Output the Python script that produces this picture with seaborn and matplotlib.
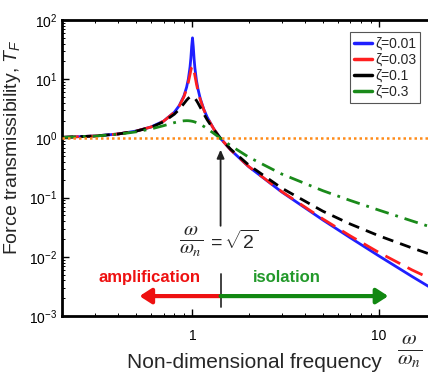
import matplotlib
matplotlib.use("Agg")
import matplotlib.pyplot as plt
from matplotlib.lines import Line2D
from matplotlib.ticker import FixedLocator, FixedFormatter, LogLocator, NullFormatter
import numpy as np
import pandas as pd
import seaborn as sns

# Frequency ratio omega/omega_n
freq = [0.2, 0.3, 0.4, 0.5, 0.6, 0.7, 0.8, 0.85, 0.9, 0.93, 0.95, 0.97, 0.98, 0.99,
        1.0, 1.01, 1.02, 1.03, 1.05, 1.07, 1.1, 1.15, 1.2, 1.3, 1.414, 1.6, 2, 3, 5,
        7, 10, 15, 20]

# Force transmissibility for each damping ratio
T_z001 = [1.042, 1.099, 1.190, 1.333, 1.562, 1.961, 2.775, 3.597, 5.241, 7.334, 10.07,
          16.08, 22.64, 35.63, 50.01, 35.10, 22.10, 15.56, 9.560, 6.829, 4.737, 3.094,
          2.270, 1.449, 1.000, 0.6412, 0.3336, 0.1252, 0.04187, 0.02104, 0.01030,
          0.004661, 0.002699]
T_z003 = [1.042, 1.099, 1.190, 1.333, 1.561, 1.956, 2.757, 3.549, 5.070, 6.852, 8.869,
          12.08, 14.13, 15.99, 16.70, 15.69, 13.66, 11.55, 8.328, 6.323, 4.553, 3.039,
          2.249, 1.445, 1.000, 0.6428, 0.3355, 0.1270, 0.04350, 0.02260, 0.01178,
          0.006006, 0.003915]
T_z01 = [1.042, 1.099, 1.189, 1.328, 1.547, 1.909, 2.571, 3.117, 3.882, 4.425, 4.766,
         5.023, 5.096, 5.123, 5.099, 5.026, 4.908, 4.753, 4.373, 3.957, 3.367, 2.590,
         2.052, 1.401, 1.000, 0.6593, 0.3559, 0.1454, 0.05887, 0.03583, 0.02258,
         0.01412, 0.01033]
T_z03 = [1.041, 1.095, 1.177, 1.293, 1.447, 1.642, 1.849, 1.933, 1.985, 1.995, 1.991,
         1.978, 1.968, 1.957, 1.944, 1.929, 1.912, 1.893, 1.852, 1.806, 1.730, 1.595,
         1.460, 1.218, 1.000, 0.7568, 0.4834, 0.2511, 0.1307, 0.08960, 0.06133,
         0.04039, 0.03017]

labels = ["ζ=0.01", "ζ=0.03", "ζ=0.1", "ζ=0.3"]
series = [T_z001, T_z003, T_z01, T_z03]
colors = ["#1f1fff", "#ff1f1f", "#000000", "#1a8a1a"]
dashes = [(None, None), (6, 3), (4, 2.6), (5, 2.5, 1, 2.5)]

y_ticks = [1e-3, 1e-2, 1e-1, 1e0, 1e1, 1e2]
y_tick_labels = [r"$10^{-3}$", r"$10^{-2}$", r"$10^{-1}$", r"$10^{0}$", r"$10^{1}$", r"$10^{2}$"]
x_ticks = [1, 10]
x_tick_labels = ["1", "10"]

sns.set_style("ticks")
plt.rcParams["font.family"] = ["Liberation Sans", "DejaVu Sans"]
plt.rcParams["mathtext.fontset"] = "custom"
plt.rcParams["mathtext.rm"] = "Liberation Sans"
plt.rcParams["mathtext.it"] = "Liberation Sans:italic"
plt.rcParams["mathtext.bf"] = "Liberation Sans:bold"

fig = plt.figure(figsize=(4.28, 3.78), dpi=100)
ax = fig.add_axes([0.145, 0.164, 0.872, 0.783])

frames = []
for lab, vals in zip(labels, series):
    frames.append(pd.DataFrame({"freq": freq, "T": vals, "zeta": lab}))
df = pd.concat(frames, ignore_index=True)

for lab, col, d in zip(labels, colors, dashes):
    sub = df[df["zeta"] == lab]
    sns.lineplot(data=sub, x="freq", y="T", ax=ax, color=col, lw=2.0,
                 estimator=None, sort=False, legend=False)
    line = ax.lines[-1]
    if d[0] is not None:
        line.set_dashes(d)

ax.axhline(1.0, color="#ff8c1a", lw=1.8, ls=(0, (1, 1.2)), zorder=5)

ax.set_xscale("log")
ax.set_yscale("log")
ax.set_xlim(0.2, 20)
ax.set_ylim(1e-3, 1e2)

ax.yaxis.set_major_locator(FixedLocator(y_ticks))
ax.yaxis.set_major_formatter(FixedFormatter(y_tick_labels))
ax.xaxis.set_major_locator(FixedLocator(x_ticks))
ax.xaxis.set_major_formatter(FixedFormatter(x_tick_labels))
ax.xaxis.set_minor_locator(LogLocator(base=10, subs=np.arange(2, 10)))
ax.yaxis.set_minor_locator(LogLocator(base=10, subs=np.arange(2, 10), numticks=20))
ax.xaxis.set_minor_formatter(NullFormatter())
ax.yaxis.set_minor_formatter(NullFormatter())

ax.tick_params(which="both", direction="in", top=True, right=True, colors="black",
               labelsize=10)
ax.tick_params(which="major", length=5, width=1.0)
ax.tick_params(which="minor", length=2.5, width=0.7)
ax.tick_params(axis="x", pad=9, labelsize=10)
for s in ax.spines.values():
    s.set_linewidth(2.0)
    s.set_color("black")

ax.set_ylabel(r"Force transmissibility, $T_F$", fontsize=14)
ax.yaxis.set_label_coords(-0.105, 0.571)
ax.set_xlabel("Non-dimensional frequency", fontsize=15)
ax.xaxis.set_label_coords(0.515, -0.125)
fig.text(0.958, 0.068, r"$\frac{\omega}{\omega_n}$", fontsize=22, ha="center",
         va="center", math_fontfamily="stix")

# Legend
handles = [Line2D([0], [0], color=c, lw=2.5) for c in colors]
leg = ax.legend(handles, labels, loc="upper left", bbox_to_anchor=(0.772, 0.958),
                borderaxespad=0, fontsize=10, handlelength=1.3, handletextpad=0.2,
                labelspacing=0.15, borderpad=0.3, fancybox=False, framealpha=1,
                edgecolor="#555555")
leg.get_frame().set_linewidth(0.8)

# Annotation at the crossover frequency
root2 = 2 ** 0.5
ax.annotate("", xy=(root2, 0.72), xytext=(root2, 0.03),
            arrowprops=dict(arrowstyle="-|>,head_length=0.5,head_width=0.22",
                            color="#222222", lw=1.3))
ax.text(0.985, 0.018, r"$\frac{\omega}{\omega_n}$", fontsize=21, ha="center",
        va="center", math_fontfamily="stix")
ax.text(1.2, 0.0185, r"$=\sqrt{2}$", fontsize=14, ha="left", va="center")

# Amplification / isolation arrows
y_arrow = 0.00217
ax.annotate("", xy=(0.52, y_arrow), xytext=(root2, y_arrow),
            arrowprops=dict(arrowstyle="-|>,head_length=0.7,head_width=0.45",
                            color="#ee1111", lw=3.0, shrinkA=0, shrinkB=0))
ax.annotate("", xy=(11.2, y_arrow), xytext=(root2, y_arrow),
            arrowprops=dict(arrowstyle="-|>,head_length=0.7,head_width=0.45",
                            color="#118811", lw=3.0, shrinkA=0, shrinkB=0))
ax.plot([root2, root2], [0.0014, 0.0052], color="#333333", lw=1.3)
ax.text(0.59, 0.0044, "amplification", color="#ee1111", fontsize=12,
        fontweight="bold", ha="center", va="center")
ax.text(3.22, 0.0044, "isolation", color="#22992a", fontsize=12,
        fontweight="bold", ha="center", va="center")

fig.savefig("out.png", dpi=100)
